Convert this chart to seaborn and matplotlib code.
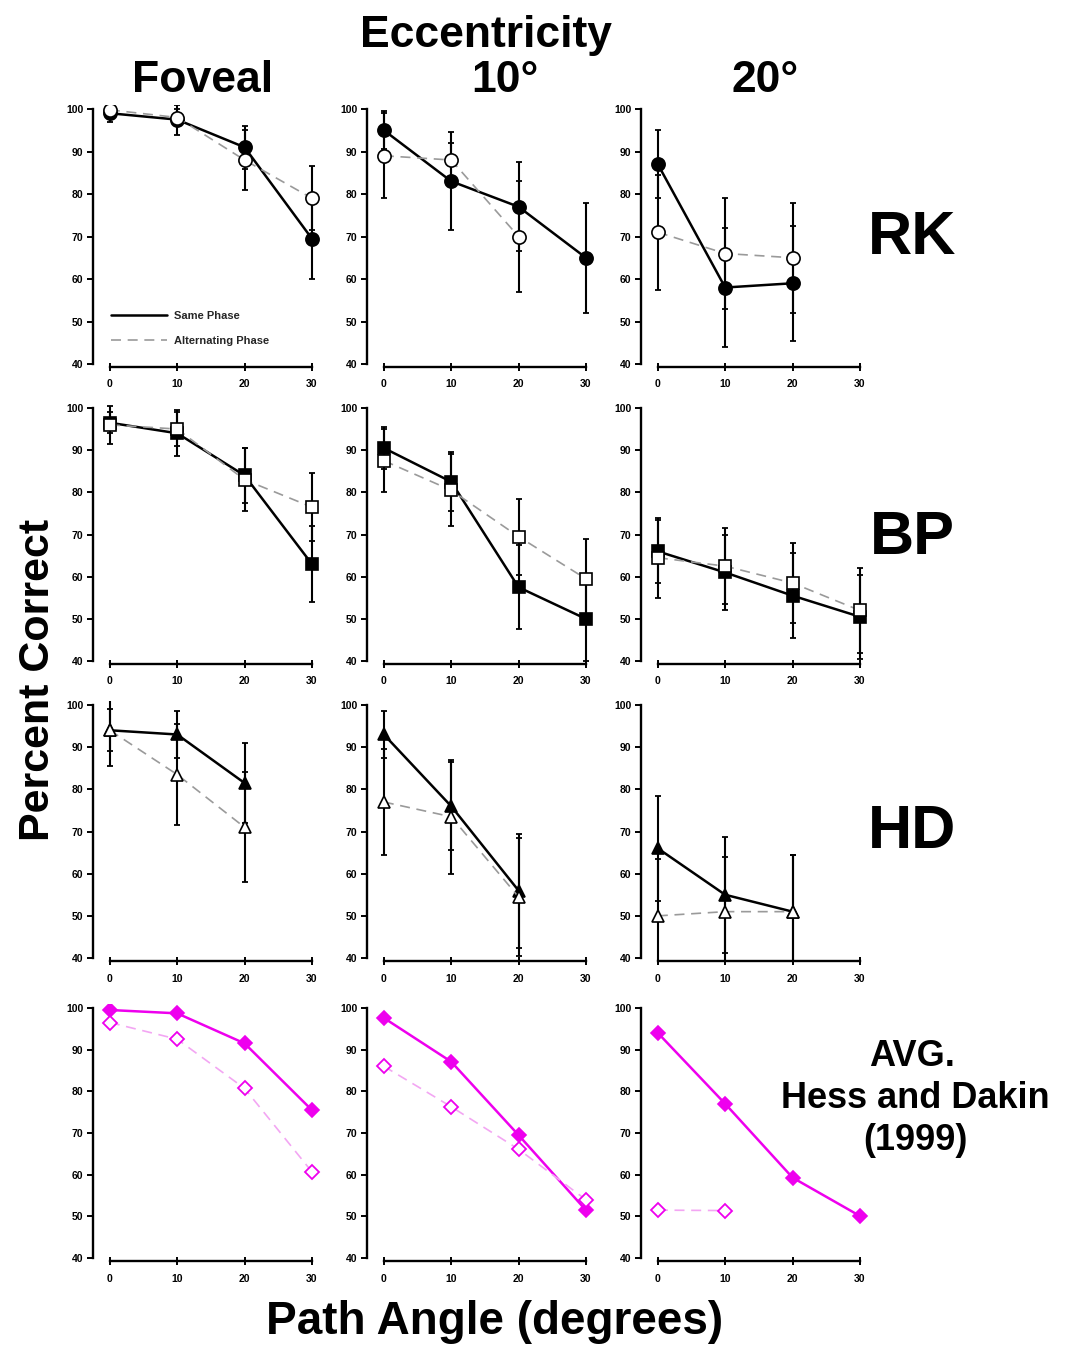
import matplotlib
matplotlib.use("Agg")
import matplotlib.pyplot as plt
import seaborn as sns
from matplotlib.lines import Line2D

angles = [0, 10, 20, 30]
row_names = ["RK", "BP", "HD", "AVG"]
col_names = ["Foveal", "10°", "20°"]

# ---- RK ----
rk_fov_same = [99, 97.5, 91, 69.5]
rk_fov_same_err = [2, 3.5, 5, 9.5]
rk_fov_alt = [99.8, 98, 88, 79]
rk_fov_alt_err = [1, 2, 7, 7.5]
rk_10_same = [95, 83, 77, 65]
rk_10_same_err = [4.5, 11.5, 10.5, 13]
rk_10_alt = [89, 88, 70]
rk_10_alt_err = [10, 4, 13]
rk_20_same = [87, 58, 59]
rk_20_same_err = [8, 14, 13.5]
rk_20_alt = [71, 66, 65]
rk_20_alt_err = [13.5, 13, 13]
# ---- BP ----
bp_fov_same = [96.5, 94, 84, 63]
bp_fov_same_err = [2.5, 5.5, 6.5, 9]
bp_fov_alt = [96, 95, 83, 76.5]
bp_fov_alt_err = [4.5, 4, 7.5, 8]
bp_10_same = [90.5, 82.5, 57.5, 50]
bp_10_same_err = [5, 7, 10, 10]
bp_10_alt = [87.5, 80.5, 69.5, 59.5]
bp_10_alt_err = [7.5, 8.5, 9, 9.5]
bp_20_same = [66, 61, 55.5, 50.5]
bp_20_same_err = [7.5, 9, 10, 10]
bp_20_alt = [64.5, 62.5, 58.5, 52]
bp_20_alt_err = [9.5, 9, 9.5, 10]
# ---- HD ----
hd_fov_same = [94, 93, 81.5]
hd_fov_same_err = [5, 5.5, 9.5]
hd_fov_alt = [94, 83.5, 71]
hd_fov_alt_err = [8.5, 12, 13]
hd_10_same = [93, 76, 56]
hd_10_same_err = [5.5, 10.5, 13.5]
hd_10_alt = [77, 73.5, 54.5]
hd_10_alt_err = [12.5, 13.5, 14]
hd_20_same = [66, 55, 51]
hd_20_same_err = [12.5, 13.7, 13.5]
hd_20_alt = [50, 51, 51]
hd_20_alt_err = [13.5, 13, 13.5]
# ---- AVG (Hess and Dakin 1999) ----
avg_fov_same = [99.5, 98.7, 91.5, 75.5]
avg_fov_alt = [96.5, 92.5, 80.7, 60.7]
avg_10_same = [97.6, 87.1, 69.5, 51.5]
avg_10_alt = [86, 76.3, 66.1, 54]
avg_20_same = [94, 77, 59.3, 50.1]
avg_20_alt = [51.5, 51.4]

y_ticks = [40, 50, 60, 70, 80, 90, 100]

panels = {
    (0, 0): (rk_fov_same, rk_fov_same_err, rk_fov_alt, rk_fov_alt_err),
    (0, 1): (rk_10_same, rk_10_same_err, rk_10_alt, rk_10_alt_err),
    (0, 2): (rk_20_same, rk_20_same_err, rk_20_alt, rk_20_alt_err),
    (1, 0): (bp_fov_same, bp_fov_same_err, bp_fov_alt, bp_fov_alt_err),
    (1, 1): (bp_10_same, bp_10_same_err, bp_10_alt, bp_10_alt_err),
    (1, 2): (bp_20_same, bp_20_same_err, bp_20_alt, bp_20_alt_err),
    (2, 0): (hd_fov_same, hd_fov_same_err, hd_fov_alt, hd_fov_alt_err),
    (2, 1): (hd_10_same, hd_10_same_err, hd_10_alt, hd_10_alt_err),
    (2, 2): (hd_20_same, hd_20_same_err, hd_20_alt, hd_20_alt_err),
    (3, 0): (avg_fov_same, None, avg_fov_alt, None),
    (3, 1): (avg_10_same, None, avg_10_alt, None),
    (3, 2): (avg_20_same, None, avg_20_alt, None),
}
row_markers = ["o", "s", "^", "D"]
row_ms = [9.5, 8.5, 9.0, 7.0]

sns.set_theme(style="ticks")
plt.rcParams["font.family"] = ["Liberation Sans", "DejaVu Sans"]
plt.rcParams["font.weight"] = "bold"

W, H = 1065, 1345
fig = plt.figure(figsize=(W / 100, H / 100), dpi=100)

col_left_px = [93, 367, 641]
ax_w_px = 229
row_top_px = [104.75, 403.75, 700.75, 1003.75]
row_bot_px = [367, 664, 961, 1261]

MAG = "#ee00ee"
MAG_LIGHT = "#f3a6f3"

for (r, c), (same, same_err, alt, alt_err) in panels.items():
    left = col_left_px[c] / W
    bottom = 1 - row_bot_px[r] / H
    height = (row_bot_px[r] - row_top_px[r]) / H
    ax = fig.add_axes([left, bottom, ax_w_px / W, height])
    ax.set_xlim(-2.5, 31.5)
    ax.set_ylim(39.3, 101)
    for s in ["top", "right"]:
        ax.spines[s].set_visible(False)
    ax.spines["left"].set_bounds(40, 100)
    ax.spines["bottom"].set_bounds(0, 30)
    for s in ["left", "bottom"]:
        ax.spines[s].set_linewidth(1.7)
        ax.spines[s].set_color("black")
    ax.set_xticks(angles)
    ax.set_yticks(y_ticks)
    ax.tick_params(axis="y", direction="out", length=4, width=1.4, pad=3,
                   labelsize=7.5, colors="black")
    ax.tick_params(axis="x", direction="inout", length=6, width=1.4, pad=6,
                   labelsize=7.5, colors="black")
    for lab in ax.get_xticklabels() + ax.get_yticklabels():
        lab.set_fontweight("bold")

    marker = row_markers[r]
    ms = row_ms[r]
    xs_s = angles[:len(same)]
    xs_a = angles[:len(alt)]
    if r < 3:
        ax.errorbar(xs_s, same, yerr=same_err, fmt="none", ecolor="black",
                    elinewidth=1.5, capsize=2.5, capthick=1.3, zorder=1)
        ax.errorbar(xs_a, alt, yerr=alt_err, fmt="none", ecolor="black",
                    elinewidth=1.5, capsize=2.5, capthick=1.3, zorder=1)
        sns.lineplot(x=xs_s, y=same, ax=ax, color="black", linewidth=1.8,
                     marker=marker, markersize=ms, markerfacecolor="black",
                     markeredgecolor="black", markeredgewidth=1.2,
                     errorbar=None, zorder=3)
        sns.lineplot(x=xs_a, y=alt, ax=ax, color="#9a9a9a", linewidth=1.2,
                     linestyle=(0, (6, 4)), marker=marker, markersize=ms,
                     markerfacecolor="white", markeredgecolor="black",
                     markeredgewidth=1.2, errorbar=None, zorder=4)
    else:
        sns.lineplot(x=xs_s, y=same, ax=ax, color=MAG, linewidth=1.8,
                     marker=marker, markersize=ms, markerfacecolor=MAG,
                     markeredgecolor=MAG, markeredgewidth=1.2,
                     errorbar=None, zorder=3)
        sns.lineplot(x=xs_a, y=alt, ax=ax, color=MAG_LIGHT, linewidth=1.2,
                     linestyle=(0, (6, 4)), marker=marker, markersize=ms,
                     markerfacecolor="white", markeredgecolor=MAG,
                     markeredgewidth=1.3, errorbar=None, zorder=4)
    ax.set_xlabel("")
    ax.set_ylabel("")

    if r == 0 and c == 0:
        handles = [Line2D([], [], color="black", lw=1.8),
                   Line2D([], [], color="#9a9a9a", lw=1.2, ls=(0, (6, 4)))]
        leg = ax.legend(handles, ["Same Phase", "Alternating Phase"],
                        loc="upper left", bbox_to_anchor=(0.08, 0.215),
                        frameon=False, fontsize=8, handlelength=5.0,
                        handletextpad=0.6, labelspacing=1.35, borderpad=0,
                        borderaxespad=0)
        for t in leg.get_texts():
            t.set_fontweight("bold")


def ftext(x, y, s, size, **kw):
    fig.text(x / W, 1 - y / H, s, fontsize=size, fontweight="bold",
             ha="center", va="center", color="black", **kw)


ftext(486, 35, "Eccentricity", 32)
ftext(203, 80, col_names[0], 32)
ftext(505, 80, col_names[1], 32)
ftext(765, 80, col_names[2], 32)
ftext(912, 238, row_names[0], 44)
ftext(912, 538, row_names[1], 44)
ftext(912, 833, row_names[2], 44)
ftext(912, 1057, "AVG.", 26)
ftext(915, 1098, "Hess and Dakin", 26)
ftext(915, 1140, "(1999)", 26)
ftext(38, 680, "Percent Correct", 31, rotation=90)
ftext(495, 1322, "Path Angle (degrees)", 33)

fig.savefig("out.png", dpi=100, facecolor="white")
